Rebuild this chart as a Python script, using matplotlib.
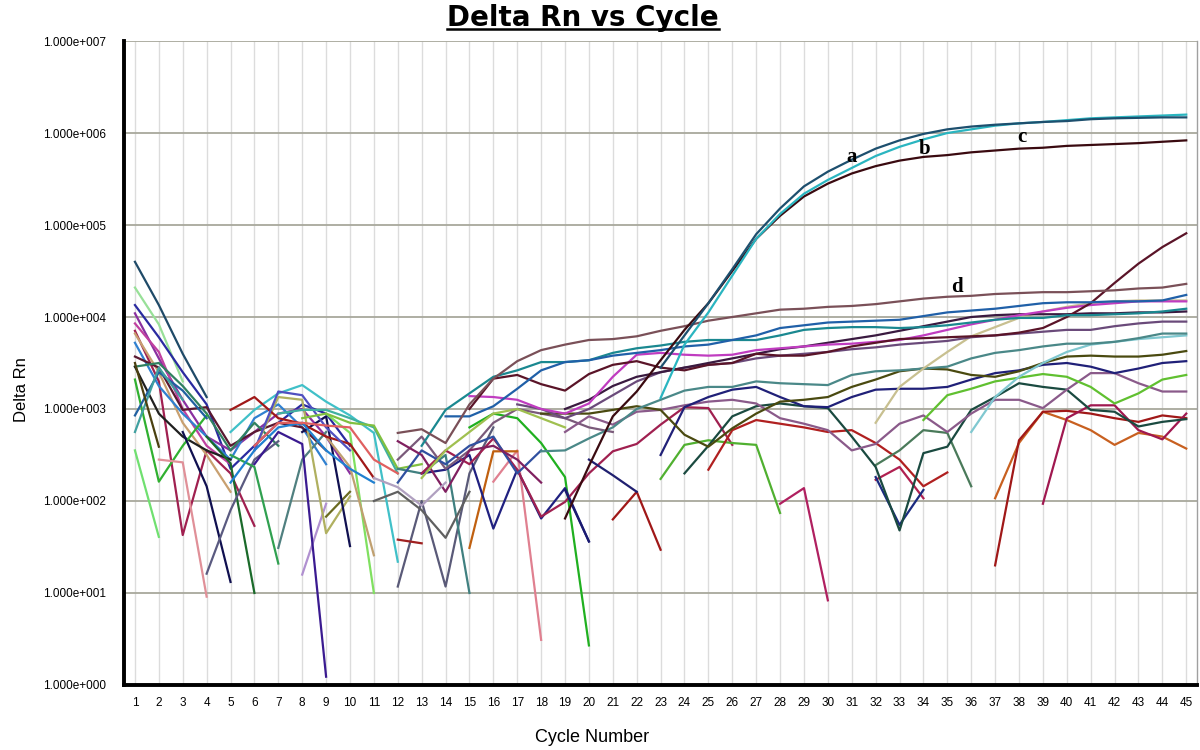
import matplotlib
matplotlib.use("Agg")
import matplotlib.pyplot as plt
import numpy as np
from matplotlib.lines import Line2D

# each curve: (first cycle, log10 of Delta Rn per cycle), None = gap
curve_a = (23, [3.45, 3.80, 4.15, 4.52, 4.90, 5.18, 5.42, 5.58, 5.71, 5.83, 5.92, 5.99,
                6.04, 6.07, 6.09, 6.105, 6.12, 6.13, 6.15, 6.16, 6.165, 6.17, 6.17])
curve_b = (23, [3.12, 3.70, 4.05, 4.45, 4.85, 5.12, 5.34, 5.49, 5.62, 5.75, 5.85, 5.93,
                6.00, 6.04, 6.08, 6.105, 6.12, 6.14, 6.16, 6.17, 6.18, 6.19, 6.20])
curve_c = (19, [1.81, 2.38, 2.92, 3.19, 3.53, 3.86, 4.15, 4.50, 4.85, 5.10, 5.31, 5.45,
                5.56, 5.64, 5.70, 5.74, 5.76, 5.79, 5.81, 5.83, 5.84, 5.86, 5.87, 5.88,
                5.89, 5.905, 5.92])
curve_d = (12, [2.74, 2.78, 2.63, 3.05, 3.33, 3.52, 3.64, 3.70, 3.75, 3.76, 3.79, 3.85,
                3.90, 3.96, 4.00, 4.04, 4.08, 4.09, 4.11, 4.12, 4.14, 4.17, 4.20, 4.22,
                4.23, 4.25, 4.26, 4.27, 4.27, 4.28, 4.29, 4.31, 4.32, 4.36])

# plateau / late wells
blue_1 = (14, [2.92, 2.92, 3.03, 3.22, 3.42, 3.51, 3.53, 3.58, 3.61, 3.64, 3.68, 3.70,
               3.75, 3.80, 3.88, 3.91, 3.94, 3.95, 3.96, 3.97, 4.01, 4.05, 4.07, 4.09,
               4.12, 4.15, 4.16, 4.16, 4.17, 4.17, 4.18, 4.24])
teal_1 = (13, [2.60, 2.99, 3.17, 3.35, 3.42, 3.51, 3.51, 3.53, 3.61, 3.66, 3.69, 3.73,
               3.75, 3.75, 3.75, 3.80, 3.86, 3.88, 3.89, 3.89, 3.88, 3.89, 3.91, 3.94,
               3.97, 3.99, 3.99, 4.02, 4.02, 4.03, 4.04, 4.06, 4.09])
late_riser = (15, [3.00, 3.33, 3.37, 3.27, 3.20, 3.38, 3.48, 3.52, 3.45, 3.42, 3.48, 3.50,
                   3.60, 3.58, 3.58, 3.62, 3.68, 3.72, 3.76, 3.77, 3.78, 3.79, 3.80, 3.83,
                   3.88, 4.00, 4.15, 4.37, 4.58, 4.76, 4.91])
magenta_1 = (15, [3.14, 3.13, 3.10, 3.00, 2.95, 3.06, 3.35, 3.59, 3.61, 3.59, 3.58, 3.59,
                  3.64, 3.66, 3.68, 3.70, 3.71, 3.73, 3.75, 3.80, 3.86, 3.92, 3.97, 4.02,
                  4.06, 4.10, 4.13, 4.15, 4.17, 4.17, 4.17])
dark_purple = (19, [3.00, 3.10, 3.25, 3.35, 3.40, 3.45, 3.50, 3.55, 3.60, 3.65, 3.68, 3.72,
                    3.76, 3.80, 3.85, 3.90, 3.95, 4.00, 4.02, 4.03, 4.03, 4.03, 4.04, 4.04,
                    4.05, 4.05, 4.06])
purple_gray = (17, [3.05, 3.00, 2.90, 3.00, 3.15, 3.30, 3.40, 3.45, 3.48, 3.50, 3.55, 3.58,
                    3.60, 3.62, 3.65, 3.67, 3.70, 3.72, 3.74, 3.78, 3.80, 3.82, 3.84, 3.86,
                    3.86, 3.90, 3.93, 3.95, 3.95])
khaki_1 = (32, [2.85, 3.24, 3.44, 3.62, 3.79, 3.89, 3.99, 4.06, 4.11, 4.15, 4.17, 4.18,
                4.18, 4.18])
slate_teal = (18, [2.54, 2.55, 2.68, 2.80, 3.00, 3.10, 3.20, 3.24, 3.24, 3.30, 3.28, 3.27,
                   3.26, 3.37, 3.41, 3.42, 3.44, 3.46, 3.55, 3.61, 3.64, 3.68, 3.71, 3.71,
                   3.73, 3.77, 3.82, 3.82])
light_cyan = (36, [2.75, 3.13, 3.35, 3.50, 3.62, 3.70, 3.73, 3.76, 3.78, 3.80])
dark_olive = (18, [2.95, 2.95, 2.95, 2.99, 3.03, 2.99, 2.72, 2.59, 2.79, 2.95, 3.08, 3.10,
                   3.13, 3.24, 3.32, 3.41, 3.44, 3.43, 3.37, 3.35, 3.41, 3.50, 3.57, 3.58,
                   3.57, 3.57, 3.59, 3.63])
navy_r = (23, [2.50, 3.02, 3.13, 3.21, 3.24, 3.13, 3.03, 3.02, 3.13, 3.21, 3.22, 3.22,
               3.24, 3.32, 3.39, 3.42, 3.48, 3.50, 3.46, 3.39, 3.44, 3.50, 3.52])
green_r = (34, [2.88, 3.15, 3.22, 3.30, 3.34, 3.38, 3.35, 3.24, 3.06, 3.17, 3.32, 3.37])
mauve_1 = (19, [2.75, 2.92, 2.83, 2.97, 2.99, 3.04, 3.08, 3.10, 3.06, 2.90, 2.84, 2.77,
                2.55, 2.62, 2.84, 2.93, 2.75, 2.95, 3.10, 3.10, 3.01, 3.21, 3.39, 3.39,
                3.28, 3.19, 3.19])
dk_teal = (24, [2.30, 2.60, 2.92, 3.03, 3.06, 3.03, 3.01, 2.70, 2.37, 1.68, 2.52, 2.59,
                2.99, 3.13, 3.28, 3.24, 3.21, 2.99, 2.97, 2.81, 2.86, 2.89])
navy_dip = (32, [2.26, 1.74, 2.12])
red_mid = (25, [2.34, 2.77, 2.88, 2.84, 2.80, 2.75, 2.77, 2.63, 2.45, 2.16, 2.31])
crimson_short = (32, [2.23, 2.37, 2.03])
gray_green = (32, [2.39, 2.55, 2.77, 2.74, 2.16])
orange_late = (37, [2.03, 2.63, 2.97, 2.88, 2.77, 2.61, 2.74, 2.70, 2.57])
red_late = (37, [1.30, 2.66, 2.97, 2.98, 2.95, 2.90, 2.86, 2.93, 2.90])
crimson_late = (39, [1.97, 2.90, 3.04, 3.04, 2.77, 2.67, 2.95])

# early noise, cycles 1-20
L01 = (1, [4.60, 4.13, 3.60, 3.13])
L02 = (1, [4.32, 3.92, 3.30])
L03 = (1, [4.13, 3.78, 3.40, 3.05, 2.35, 2.60, 2.85, 3.05, 2.95, 2.60])
L04 = (1, [4.04, 3.55, 3.10, 2.70, 2.55, 2.75, 2.95, 3.00, 2.70, 2.30])
L05 = (1, [3.93, 3.62, 3.00, 2.60, 2.40])
L06 = (1, [3.85, 3.30, 1.63, 2.55, 2.30, 1.73])
L07 = (1, [3.82, 3.40, 2.85, 2.50, 2.10])
L08 = (1, [3.72, 3.25, 2.95, 2.70, 2.45, 2.90, 3.05, 2.80, 2.40])
L09 = (1, [3.57, 3.45, 2.99, 3.02, 2.60, 2.75, 2.85, 2.80, 2.55])
L10 = (1, [3.46, 3.50, 3.25, 2.95, 2.55, 2.85, 2.60])
L11 = (1, [3.46, 2.95, 2.70, 2.55, 2.45])
L12 = (1, [3.32, 2.21, 2.60, 2.93])
L13 = (1, [2.93, 3.40, 3.20, 2.90])
L14 = (1, [2.75, 3.45, 3.10])
L15 = (1, [3.50, 2.59])
L16 = (1, [2.55, 1.61])
L17 = (2, [2.45, 2.42, 0.96])
L18 = (4, [2.70, 2.41, 1.00])
L19 = (3, [2.75, 2.16, 1.12])
L20 = (4, [1.21, 1.90, 2.45, 2.65])
L21 = (5, [2.50, 2.37, 1.32])
L22 = (7, [1.49, 2.45, 2.75])
L23 = (8, [1.20, 1.97])
L24 = (6, [2.40, 2.75, 2.62, 0.09])
L25 = (6, [2.55, 3.13, 3.10, 1.65, 2.05])
L26 = (9, [1.83, 2.10])
L27 = (8, [2.75, 2.92, 1.51])
L28 = (9, [2.95, 2.74, 1.00])
L29 = (9, [2.70, 2.37, 1.41])
L30 = (5, [2.75, 2.99, 3.17, 3.26, 3.08, 2.93, 2.74, 1.34])
L31 = (5, [2.99, 3.13, 2.90, 2.84, 2.70, 2.62, 2.25])
L32 = (6, [2.55, 3.19, 3.15, 2.80, 2.55])
L33 = (7, [2.95, 2.99, 2.99, 2.90, 2.80, 2.30])
L34 = (8, [2.90, 2.95, 2.85, 2.82, 2.35, 2.40])
L35 = (5, [2.20, 2.55, 2.80, 2.85, 2.55, 2.35, 2.20])
L36 = (6, [2.60, 2.85, 2.85, 2.82, 2.80, 2.45, 2.30])

M01 = (12, [1.07, 2.00, 1.07, 2.30, 2.80])
M02 = (12, [2.35, 2.30, 2.50, 1.00])
M03 = (16, [2.21, 2.55, 0.49])
M04 = (15, [2.80, 2.95, 2.90, 2.63, 2.26, 0.43])
M05 = (15, [1.49, 2.54, 2.54])
M06 = (13, [2.30, 2.34, 2.50, 1.70, 2.34, 1.81, 2.14, 1.56])
M07 = (13, [2.30, 2.55, 2.40, 2.68, 2.34, 1.83, 1.99, 2.30, 2.54, 2.62, 2.83, 3.02,
            3.01, 2.61])
M08 = (21, [1.80, 2.10, 1.47])
M09 = (23, [2.24, 2.61, 2.66, 2.63, 2.61, 1.87])
M10 = (28, [1.97, 2.14, 0.92])
M11 = (19, [2.12, 1.56])
M13 = (12, [2.45, 2.70, 2.35, 2.55, 2.85, 3.00, 2.95, 2.90, 2.80, 2.75])
M14 = (12, [2.20, 2.55, 2.40, 2.60, 2.70, 2.30, 2.55])
M15 = (12, [2.65, 2.50, 2.10, 2.55, 2.60, 2.45, 2.20])
M16 = (11, [2.00, 2.10, 1.90, 1.60, 2.10])
M17 = (12, [1.58, 1.54])
M18 = (11, [2.25, 2.15, 1.95, 2.20])
M19 = (13, [2.25, 2.55, 2.75, 2.95, 3.00, 2.90, 2.80])
M20 = (20, [2.45, 2.28, 2.10])

background = [
    (L01, "#1f4a68"), (L02, "#98e098"), (L03, "#2a2aa0"), (L04, "#8a30a0"),
    (L05, "#c040a0"), (L06, "#a02050"), (L07, "#c8a070"), (L08, "#3080d0"),
    (L09, "#5a1830"), (L10, "#308060"), (L11, "#202020"), (L12, "#30b030"),
    (L13, "#2060a0"), (L14, "#40a0a0"), (L15, "#4a4010"), (L16, "#70e070"),
    (L17, "#e09098"), (L18, "#1a6a2a"), (L19, "#101050"), (L20, "#5a5a80"),
    (L21, "#30a050"), (L22, "#508080"), (L23, "#b090d0"), (L24, "#3a1a90"),
    (L25, "#b0b060"), (L26, "#6a6a20"), (L27, "#101050"), (L28, "#80e060"),
    (L29, "#c0a070"), (L30, "#40c0c8"), (L31, "#a01818"), (L32, "#5050c0"),
    (L33, "#40b0a0"), (L34, "#80c040"), (L35, "#2080d0"), (L36, "#e06060"),
    (M01, "#5a5a78"), (M02, "#408080"), (M03, "#e08090"), (M04, "#20b020"),
    (M05, "#c06010"), (M06, "#202080"), (M07, "#a02050"), (M08, "#a01818"),
    (M09, "#50b030"), (M10, "#b02060"), (M11, "#1a1a70"), (M13, "#7a5a7a"),
    (M14, "#3050a0"), (M15, "#802060"), (M16, "#606060"), (M17, "#a02020"),
    (M18, "#b0a0c0"), (M19, "#a0c050"), (M20, "#202070"),
    (red_mid, "#b02020"), (crimson_short, "#b02050"), (gray_green, "#4a7a5a"),
    (orange_late, "#c86020"), (red_late, "#a01818"), (crimson_late, "#a01850"),
    (navy_dip, "#1a2a80"), (dk_teal, "#1a4a40"), (mauve_1, "#8a5a8a"),
    (green_r, "#60c030"), (navy_r, "#202078"), (dark_olive, "#4a4a10"),
    (light_cyan, "#80c8d0"), (slate_teal, "#4a8888"), (khaki_1, "#c8c090"),
    (purple_gray, "#6a4a7a"), (dark_purple, "#3a1a40"), (magenta_1, "#c03cc0"),
    (late_riser, "#5a1428"), (teal_1, "#1a8890"), (blue_1, "#2060a8"),
]
main_curves = [(curve_d, "#7a5058"), (curve_c, "#3a0a10"),
               (curve_b, "#2ab5c0"), (curve_a, "#1d4f6e")]

curve_labels = ["a", "b", "c", "d"]
label_cycles = [31.0, 34.05, 38.1, 35.4]
label_logs = [5.63, 5.72, 5.85, 4.22]


def to_xy(curve):
    start, logs = curve
    y = np.array([np.nan if v is None else 10.0 ** v for v in logs])
    x = np.arange(start, start + len(logs))
    return x, y


fig = plt.figure(figsize=(12, 7.5), dpi=100)
ax = fig.add_axes([0.1033, 0.0867, 0.8942, 0.8586])
ax.set_yscale("log")
ax.set_ylim(1, 1e7)
ax.set_xlim(0.54, 45.45)

for cy in range(1, 46):
    ax.axvline(cy, color="#dcdcdc", lw=1.0, zorder=0)
for e in range(0, 8):
    ax.axhline(10.0 ** e, color="#a8a89c", lw=1.3, zorder=0.5)

for curve, col in background + main_curves:
    x, y = to_xy(curve)
    ax.plot(x, y, color=col, lw=1.6, zorder=2)

ax.set_xticks(range(1, 46))
ax.set_yticks([10.0 ** e for e in range(0, 8)])
ax.set_yticklabels(["1.000e+00%d" % e for e in range(0, 8)])
ax.minorticks_off()
ax.tick_params(axis="both", length=0, labelsize=8.5, colors="black")
ax.tick_params(axis="x", pad=9)
ax.tick_params(axis="y", pad=13)
for lab in ax.get_xticklabels() + ax.get_yticklabels():
    lab.set_family("Liberation Sans")

ax.spines["left"].set_linewidth(2.8)
ax.spines["bottom"].set_linewidth(2.8)
ax.spines["top"].set_visible(False)
ax.spines["right"].set_color("#a0a0a0")
ax.spines["right"].set_linewidth(1.0)

for txt, xx, ee in zip(curve_labels, label_cycles, label_logs):
    ax.text(xx, 10.0 ** ee, txt, family="Liberation Serif", fontweight="bold",
            fontsize=15, ha="center", va="bottom", zorder=5)

title = fig.text(0.486, 0.9653, "Delta Rn vs Cycle", family="DejaVu Sans",
                 fontweight="bold", fontsize=20, ha="center", va="baseline")
fig.text(0.018, 0.48, "Delta Rn", family="Liberation Sans", fontsize=12,
         rotation=90, ha="center", va="center")
fig.text(0.493, 0.017, "Cycle Number", family="Liberation Sans", fontsize=13,
         ha="center", va="center")

# underline the title, just under the baseline
fig.canvas.draw()
bb = title.get_window_extent().transformed(fig.transFigure.inverted())
fig.add_artist(Line2D([bb.x0, bb.x1], [0.9615, 0.9615],
                      transform=fig.transFigure, color="black", lw=1.8))

fig.savefig("out.png", dpi=100)
